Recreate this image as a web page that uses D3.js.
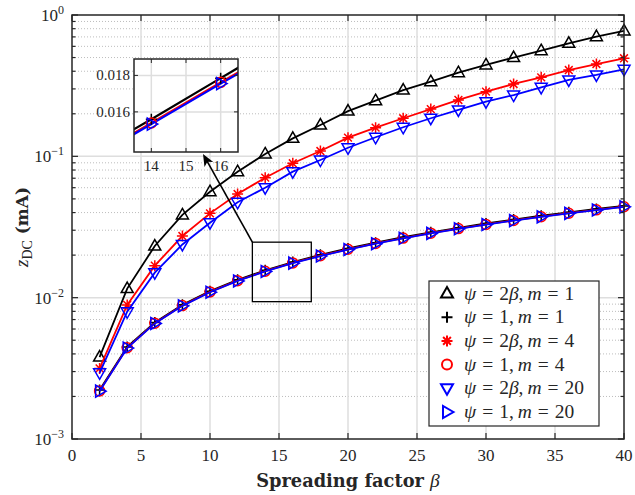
<!DOCTYPE html>
<html><head><meta charset="utf-8">
<script src="https://cdn.jsdelivr.net/npm/d3@7"></script>
<style>
body{margin:0;background:#fff}
svg{display:block}
text{font-family:"Liberation Serif","DejaVu Serif",serif;fill:#262626}
.bold{font-family:"DejaVu Serif",serif;font-weight:bold}
</style>
</head><body>
<svg id="c" width="635" height="495"></svg>
<script>
// ---- data ----
const beta = [2,4,6,8,10,12,14,16,18,20,22,24,26,28,30,32,34,36,38,40];
const psi2b_m1  = [0.0038,0.0116,0.0232,0.0385,0.0562,0.0779,0.1039,0.134,0.1666,0.209,0.2477,0.2945,0.3376,0.391,0.443,0.50,0.559,0.630,0.703,0.771];
const psi1_m1   = [0.00222,0.00448,0.00668,0.00890,0.01112,0.01338,0.01560,0.01785,0.0201,0.0223,0.0245,0.0268,0.0290,0.0312,0.0335,0.0357,0.0380,0.0402,0.0424,0.0446];
const psi2b_m4  = [0.00316,0.00888,0.01684,0.0273,0.0395,0.0541,0.0706,0.0893,0.109,0.1355,0.1595,0.186,0.216,0.2505,0.2866,0.325,0.362,0.408,0.45,0.494];
const psi1_m4   = [0.00219,0.00442,0.00660,0.00879,0.01098,0.01319,0.01539,0.01762,0.0198,0.0220,0.0242,0.0264,0.0286,0.0308,0.0330,0.0352,0.0374,0.0396,0.0418,0.0440];
const psi2b_m20 = [0.00294,0.00795,0.01503,0.0238,0.0339,0.0473,0.0600,0.0779,0.0942,0.115,0.1364,0.1606,0.186,0.213,0.2436,0.2716,0.3076,0.347,0.3765,0.413];
const psi1_m20  = [0.00218,0.00440,0.00657,0.00875,0.01093,0.01313,0.01533,0.01755,0.0197,0.0219,0.0241,0.0263,0.0285,0.0307,0.0329,0.0351,0.0373,0.0395,0.0417,0.0439];
const xTicks = [0,5,10,15,20,25,30,35,40];
const yTicks = [1e-3,1e-2,1e-1,1];
const yTickExp = ["\u22123","\u22122","\u22121","0"];
const insetXTicks = [14,15,16];
const insetYTicks = [0.016,0.018];
const insetYLabels = ["0.016","0.018"];
const zoomBoxX = [13.07,17.34];
const zoomBoxY = [0.00937,0.0247];
const legendPsi = ["2\u03B2","1","2\u03B2","1","2\u03B2","1"];
const legendM   = ["1","1","4","4","20","20"];

const series = [
  {vals:psi2b_m1, color:"#000", marker:"tri"},
  {vals:psi1_m1,  color:"#000", marker:"plus"},
  {vals:psi2b_m4, color:"#ff0000", marker:"star"},
  {vals:psi1_m4,  color:"#ff0000", marker:"circle"},
  {vals:psi2b_m20,color:"#0000ff", marker:"down"},
  {vals:psi1_m20, color:"#0000ff", marker:"right"}
];

const svg = d3.select("#c");
const L=72,R=624,T=15,B=439;
const x = d3.scaleLinear([0,40],[L,R]);
const y = d3.scaleLog([1e-3,1],[B,T]);

function markerPath(t,s){
  s = s||1;
  switch(t){
    case "tri": return `M0,${-6.5*s}L${6*s},${4*s}L${-6*s},${4*s}Z`;
    case "down": return `M0,${6.5*s}L${6*s},${-4*s}L${-6*s},${-4*s}Z`;
    case "right": return `M${6.5*s},0L${-4*s},${-6*s}L${-4*s},${6*s}Z`;
    case "plus": return `M${-5.5*s},0H${5.5*s}M0,${-5.5*s}V${5.5*s}`;
    case "star": {const r=5.5*s,d=r*0.7071;return `M${-r},0H${r}M0,${-r}V${r}M${-d},${-d}L${d},${d}M${-d},${d}L${d},${-d}`;}
    case "circle": {const r=5*s;return `M${r},0A${r},${r} 0 1,1 ${-r},0A${r},${r} 0 1,1 ${r},0Z`;}
  }
}

// grid
const g = svg.append("g");
const minors=[];
for(let e=-3;e<0;e++) for(let k=2;k<=9;k++) minors.push(k*Math.pow(10,e));
g.selectAll(".mg").data(minors).join("line")
  .attr("x1",L).attr("x2",R).attr("y1",d=>y(d)).attr("y2",d=>y(d))
  .attr("stroke","#bdbdbd").attr("stroke-width",1).attr("stroke-dasharray","1,2");
g.selectAll(".gx").data(xTicks.slice(1,-1)).join("line")
  .attr("x1",d=>x(d)).attr("x2",d=>x(d)).attr("y1",T).attr("y2",B)
  .attr("stroke","#dedede").attr("stroke-width",1.5);
g.selectAll(".gy").data(yTicks.slice(1,-1)).join("line")
  .attr("x1",L).attr("x2",R).attr("y1",d=>y(d)).attr("y2",d=>y(d))
  .attr("stroke","#dedede").attr("stroke-width",1.5);

// lines & markers
const line = d3.line().x((d,i)=>x(beta[i])).y(d=>y(d));
series.forEach(s=>{
  svg.append("path").datum(s.vals).attr("d",line)
    .attr("fill","none").attr("stroke",s.color).attr("stroke-width",1.8);
  svg.append("g").selectAll("path").data(s.vals).join("path")
    .attr("transform",(d,i)=>`translate(${x(beta[i])},${y(d)})`)
    .attr("d",markerPath(s.marker))
    .attr("fill","none").attr("stroke",s.color).attr("stroke-width",1.5);
});

// axes frame & ticks
const ax = svg.append("g");
ax.append("rect").attr("x",L).attr("y",T).attr("width",R-L).attr("height",B-T)
  .attr("fill","none").attr("stroke","#262626").attr("stroke-width",1.5);
xTicks.forEach(v=>{
  ax.append("line").attr("x1",x(v)).attr("x2",x(v)).attr("y1",B).attr("y2",B-6).attr("stroke","#262626").attr("stroke-width",1.2);
  ax.append("line").attr("x1",x(v)).attr("x2",x(v)).attr("y1",T).attr("y2",T+6).attr("stroke","#262626").attr("stroke-width",1.2);
  ax.append("text").attr("x",x(v)).attr("y",B+22).attr("text-anchor","middle").attr("font-size",17).text(v);
});
yTicks.forEach((v,i)=>{
  ax.append("line").attr("x1",L).attr("x2",L+6).attr("y1",y(v)).attr("y2",y(v)).attr("stroke","#262626").attr("stroke-width",1.2);
  ax.append("line").attr("x1",R).attr("x2",R-6).attr("y1",y(v)).attr("y2",y(v)).attr("stroke","#262626").attr("stroke-width",1.2);
  const t = ax.append("text").attr("x",L-8).attr("y",y(v)+6).attr("text-anchor","end").attr("font-size",17);
  t.append("tspan").text("10");
  t.append("tspan").attr("dy",-7).attr("font-size",12).text(yTickExp[i]);
});
minors.forEach(v=>{
  ax.append("line").attr("x1",L).attr("x2",L+3.5).attr("y1",y(v)).attr("y2",y(v)).attr("stroke","#262626").attr("stroke-width",1.2);
  ax.append("line").attr("x1",R).attr("x2",R-3.5).attr("y1",y(v)).attr("y2",y(v)).attr("stroke","#262626").attr("stroke-width",1.2);
});

// axis labels
const xl = svg.append("text").attr("x",(L+R)/2).attr("y",487).attr("text-anchor","middle").attr("font-size",17.8);
xl.append("tspan").attr("class","bold").text("Spreading factor ");
xl.append("tspan").attr("font-style","italic").attr("font-size",19.5).text("\u03B2");
const yl = svg.append("text").attr("transform",`translate(28,${(T+B)/2}) rotate(-90)`).attr("text-anchor","middle").attr("font-size",19);
yl.append("tspan").attr("font-style","italic").text("z");
yl.append("tspan").attr("font-size",14).attr("dy",4).text("DC");
yl.append("tspan").attr("dy",-4).attr("class","bold").attr("font-size",17).text(" (mA)");

// zoom rectangle
svg.append("rect").attr("x",x(zoomBoxX[0])).attr("y",y(zoomBoxY[1]))
  .attr("width",x(zoomBoxX[1])-x(zoomBoxX[0])).attr("height",y(zoomBoxY[0])-y(zoomBoxY[1]))
  .attr("fill","none").attr("stroke","#000").attr("stroke-width",1.3);

// inset
const IL=134,IR=238,IT=59,IB=152;
const ix = d3.scaleLinear([13.5,16.5],[IL,IR]);
const iy = d3.scaleLinear([0.0138,0.0189],[IB,IT]);
const ins = svg.append("g");
ins.append("rect").attr("x",IL).attr("y",IT).attr("width",IR-IL).attr("height",IB-IT).attr("fill","#fff");
svg.append("clipPath").attr("id","ic").append("rect").attr("x",IL).attr("y",IT).attr("width",IR-IL).attr("height",IB-IT);
insetXTicks.forEach(v=>{
  ins.append("line").attr("x1",ix(v)).attr("x2",ix(v)).attr("y1",IT).attr("y2",IB).attr("stroke","#dedede").attr("stroke-width",1.5);
});
insetYTicks.forEach(v=>{
  ins.append("line").attr("x1",IL).attr("x2",IR).attr("y1",iy(v)).attr("y2",iy(v)).attr("stroke","#dedede").attr("stroke-width",1.5);
});
const icl = ins.append("g").attr("clip-path","url(#ic)");
const iline = d3.line().x((d,i)=>ix(beta[i])).y(d=>iy(d));
[series[1],series[3],series[5]].forEach(s=>{
  icl.append("path").datum(s.vals).attr("d",iline).attr("fill","none").attr("stroke",s.color).attr("stroke-width",2.2);
});
series.forEach(s=>{
  icl.append("g").selectAll("path").data(s.vals.map((v,i)=>[beta[i],v]).filter(d=>d[0]>=14&&d[0]<=16&&d[1]<0.0189))
    .join("path").attr("transform",d=>`translate(${ix(d[0])},${iy(d[1])})`)
    .attr("d",markerPath(s.marker)).attr("fill","none").attr("stroke",s.color).attr("stroke-width",1.5);
});
ins.append("rect").attr("x",IL).attr("y",IT).attr("width",IR-IL).attr("height",IB-IT)
  .attr("fill","none").attr("stroke","#262626").attr("stroke-width",1.5);
insetXTicks.forEach(v=>{
  ins.append("line").attr("x1",ix(v)).attr("x2",ix(v)).attr("y1",IB).attr("y2",IB-4).attr("stroke","#262626");
  ins.append("line").attr("x1",ix(v)).attr("x2",ix(v)).attr("y1",IT).attr("y2",IT+4).attr("stroke","#262626");
  ins.append("text").attr("x",ix(v)).attr("y",IB+19).attr("text-anchor","middle").attr("font-size",15).text(v);
});
insetYTicks.forEach((v,i)=>{
  ins.append("line").attr("x1",IL).attr("x2",IL+4).attr("y1",iy(v)).attr("y2",iy(v)).attr("stroke","#262626");
  ins.append("line").attr("x1",IR).attr("x2",IR-4).attr("y1",iy(v)).attr("y2",iy(v)).attr("stroke","#262626");
  ins.append("text").attr("x",IL-4).attr("y",iy(v)+5).attr("text-anchor","end").attr("font-size",15).text(insetYLabels[i]);
});

// arrow from zoom box to inset
const ax0=x(zoomBoxX[0]), ay0=y(zoomBoxY[1]), ax1=203, ay1=IB+2;
const ang=Math.atan2(ay1-ay0,ax1-ax0);
svg.append("line").attr("x1",ax0).attr("y1",ay0).attr("x2",ax1-8*Math.cos(ang)).attr("y2",ay1-8*Math.sin(ang))
  .attr("stroke","#000").attr("stroke-width",1.6);
svg.append("path").attr("transform",`translate(${ax1},${ay1}) rotate(${ang*180/Math.PI})`)
  .attr("d","M0,0L-12,-5L-9,0L-12,5Z").attr("fill","#000");

// legend
const LX=429,LY=281,LW=170,LH=145;
const lg = svg.append("g");
lg.append("rect").attr("x",LX).attr("y",LY).attr("width",LW).attr("height",LH)
  .attr("fill","#fff").attr("stroke","#262626").attr("stroke-width",1.2);
series.forEach((s,i)=>{
  const yy = LY+12.5+i*23.7;
  lg.append("path").attr("transform",`translate(${LX+18},${yy})`).attr("d",markerPath(s.marker))
    .attr("fill","none").attr("stroke",s.color).attr("stroke-width",2);
  const t = lg.append("text").attr("x",LX+35).attr("y",yy+6).attr("font-size",19.5);
  const it = (str)=>t.append("tspan").attr("font-style","italic").text(str);
  const rm = (str,dx)=>t.append("tspan").attr("dx",dx||0).text(str);
  it("\u03C8");
  rm("=",6);
  const p = legendPsi[i];
  if(p.length>1){ rm(p[0],6); t.append("tspan").attr("font-style","italic").text(p[1]); }
  else rm(p,6);
  rm(",",0);
  t.append("tspan").attr("font-style","italic").attr("dx",4).text("m");
  rm("=",6);
  rm(legendM[i],6);
});
</script>
</body></html>
